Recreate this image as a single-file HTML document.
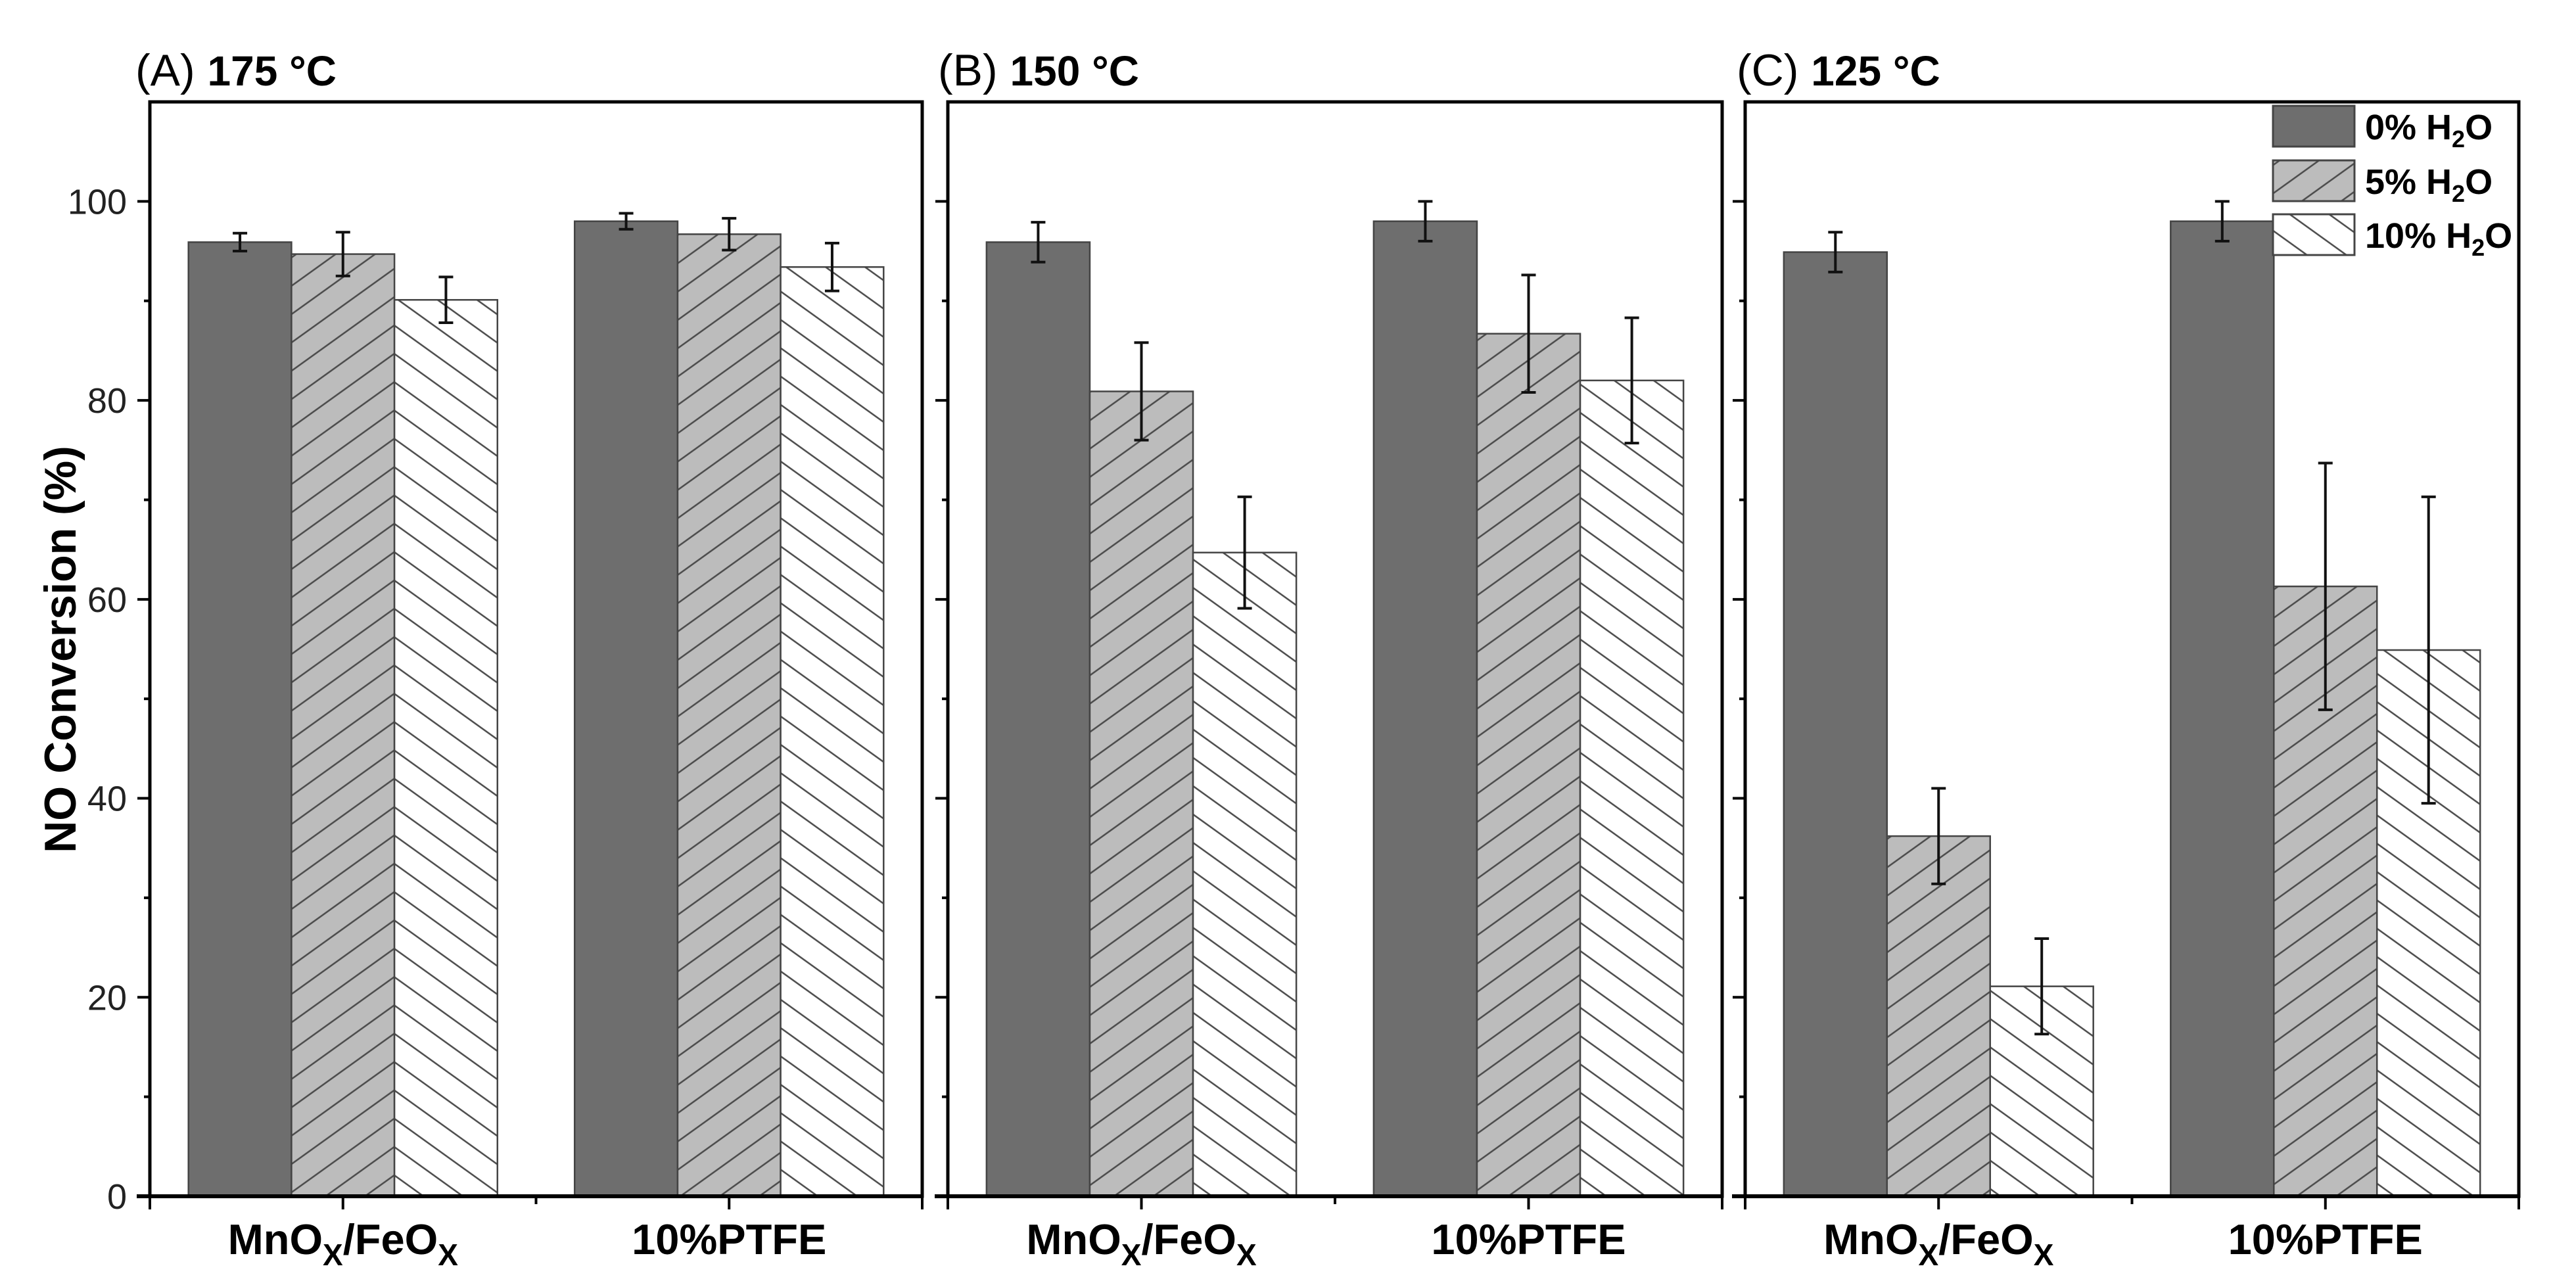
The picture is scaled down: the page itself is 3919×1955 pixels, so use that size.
<!DOCTYPE html>
<html><head><meta charset="utf-8">
<style>
html,body{margin:0;padding:0;background:#fff;}
svg{display:block;}
text{font-family:"Liberation Sans",Arial,sans-serif;}
</style></head>
<body>
<svg id="chart" width="3919" height="1955" viewBox="0 0 3919 1955" xmlns="http://www.w3.org/2000/svg">
<defs>
<pattern id="hatchFwd" patternUnits="userSpaceOnUse" width="60" height="35" patternTransform="rotate(-35.7)">
<rect width="60" height="35" fill="#bcbcbc"/>
<line x1="0" y1="17" x2="60" y2="17" stroke="#4a4a4a" stroke-width="2.6"/>
</pattern>
<pattern id="hatchBack" patternUnits="userSpaceOnUse" width="60" height="35" patternTransform="rotate(35.7)">
<rect width="60" height="35" fill="#ffffff"/>
<line x1="0" y1="17" x2="60" y2="17" stroke="#4a4a4a" stroke-width="2.6"/>
</pattern>
</defs>
<g id="plots"></g>
<text x="0" y="0" transform="translate(115,988) rotate(-90)" text-anchor="middle" font-size="68" font-weight="bold">NO Conversion (%)</text>
<g>
<rect x="3458" y="161" width="124" height="62" fill="#6e6e6e" stroke="#444" stroke-width="3"/>
<text x="3598" y="212" font-size="54" font-weight="bold">0% H<tspan font-size="36" dy="12">2</tspan><tspan dy="-12">O</tspan></text>
<rect x="3458" y="244" width="124" height="62" fill="url(#hatchFwd)" stroke="#444" stroke-width="3"/>
<text x="3598" y="295" font-size="54" font-weight="bold">5% H<tspan font-size="36" dy="12">2</tspan><tspan dy="-12">O</tspan></text>
<rect x="3458" y="326" width="124" height="62" fill="url(#hatchBack)" stroke="#444" stroke-width="3"/>
<text x="3598" y="377" font-size="54" font-weight="bold">10% H<tspan font-size="36" dy="12">2</tspan><tspan dy="-12">O</tspan></text>
</g>
</svg>
<script>
// ---- data ----
const panelTitles = ["(A)", "(B)", "(C)"];
const panelTemps = ["175 °C", "150 °C", "125 °C"];
const categories = ["MnOx/FeOx", "10%PTFE"];
const seriesNames = ["0% H2O", "5% H2O", "10% H2O"];
// values[panel][category] = [0%, 5%, 10%]
const valuesA = [[95.9, 94.7, 90.1], [98.0, 96.7, 93.4]];
const valuesB = [[95.9, 80.9, 64.7], [98.0, 86.7, 82.0]];
const valuesC = [[94.9, 36.2, 21.1], [98.0, 61.3, 54.9]];
const errorsA = [[0.9, 2.2, 2.3], [0.8, 1.6, 2.4]];
const errorsB = [[2.0, 4.9, 5.6], [2.0, 5.9, 6.3]];
const errorsC = [[2.0, 4.8, 4.8], [2.0, 12.4, 15.4]];
const yTicks = [0, 20, 40, 60, 80, 100];
const yMinorTicks = [10, 30, 50, 70, 90];
const yMax = 110;

// ---- layout ----
const panelLeft = [228, 1442, 2655];
const panelRight = [1403, 2620, 3832];
const titleX = [206, 1427, 2642];
const plotTop = 155, plotBottom = 1820;
const allValues = [valuesA, valuesB, valuesC];
const allErrors = [errorsA, errorsB, errorsC];
const fills = ["#6e6e6e", "url(#hatchFwd)", "url(#hatchBack)"];
const NS = "http://www.w3.org/2000/svg";
const root = document.getElementById("plots");

function mk(tag, attrs, parent) {
  const e = document.createElementNS(NS, tag);
  for (const k in attrs) e.setAttribute(k, attrs[k]);
  (parent || root).appendChild(e);
  return e;
}
function yScale(v) { return plotBottom - (v / yMax) * (plotBottom - plotTop); }

for (let p = 0; p < 3; p++) {
  const L = panelLeft[p], R = panelRight[p];
  const W = R - L;
  const xScale = function (u) { return L + (u - 0.5) / 2 * W; };
  const g = mk("g", {});
  
  

  const barW = 0.2667;
  for (let c = 0; c < categories.length; c++) {
    for (let s = 0; s < 3; s++) {
      const v = allValues[p][c][s];
      const center = (c + 1) + (s - 1) * barW;
      const x0 = xScale(center - barW / 2), x1 = xScale(center + barW / 2);
      const r = mk("rect", {x: x0, y: yScale(v), width: x1 - x0, height: plotBottom - yScale(v),
        fill: fills[s], stroke: "#444", "stroke-width": 2.5}, g);
      
      
      const e = allErrors[p][c][s];
      const cx = xScale(center);
      const eb = mk("g", {stroke: "#111", "stroke-width": 4}, g);
      
      
      mk("line", {x1: cx, x2: cx, y1: yScale(v + e), y2: yScale(v - e)}, eb);
      mk("line", {x1: cx - 11, x2: cx + 11, y1: yScale(v + e), y2: yScale(v + e)}, eb);
      mk("line", {x1: cx - 11, x2: cx + 11, y1: yScale(v - e), y2: yScale(v - e)}, eb);
    }
  }

  const fr = mk("rect", {x: L, y: plotTop, width: W, height: plotBottom - plotTop, fill: "none", stroke: "#000", "stroke-width": 5}, g);
  
  
  mk("line", {x1: L - 20, x2: R, y1: plotBottom, y2: plotBottom, stroke: "#000", "stroke-width": 6}, g);

  for (const t of yTicks) {
    mk("line", {x1: L - 19, x2: L, y1: yScale(t), y2: yScale(t), stroke: "#000", "stroke-width": 4}, g);
    if (p === 0) {
      const tl = mk("text", {x: L - 35, y: yScale(t) + 19, "text-anchor": "end", "font-size": 54, fill: "#222"}, g);
      tl.textContent = t;
      
      
    }
  }
  for (const t of yMinorTicks) {
    mk("line", {x1: L - 9, x2: L, y1: yScale(t), y2: yScale(t), stroke: "#000", "stroke-width": 4}, g);
  }
  for (const u of [0.5, 1, 1.5, 2, 2.5]) {
    const len = (u === 1.5) ? 12 : 20;
    mk("line", {x1: xScale(u), x2: xScale(u), y1: plotBottom, y2: plotBottom + len, stroke: "#000", "stroke-width": 4}, g);
  }
  const l1 = mk("text", {x: xScale(1), y: 1908, "text-anchor": "middle", "font-size": 65, "font-weight": "bold"}, g);
  l1.innerHTML = 'MnO<tspan font-size="46" dy="17">X</tspan><tspan dy="-17">/FeO</tspan><tspan font-size="46" dy="17">X</tspan>';
  
  
  const l2 = mk("text", {x: xScale(2), y: 1908, "text-anchor": "middle", "font-size": 65, "font-weight": "bold"}, g);
  l2.textContent = categories[1];
  
  

  const tt = mk("text", {x: titleX[p], y: 130, "font-size": 68}, g);
  tt.innerHTML = panelTitles[p] + ' <tspan font-weight="bold" font-size="64">' + panelTemps[p] + '</tspan>';
  
  
}
</script>
</body></html>
